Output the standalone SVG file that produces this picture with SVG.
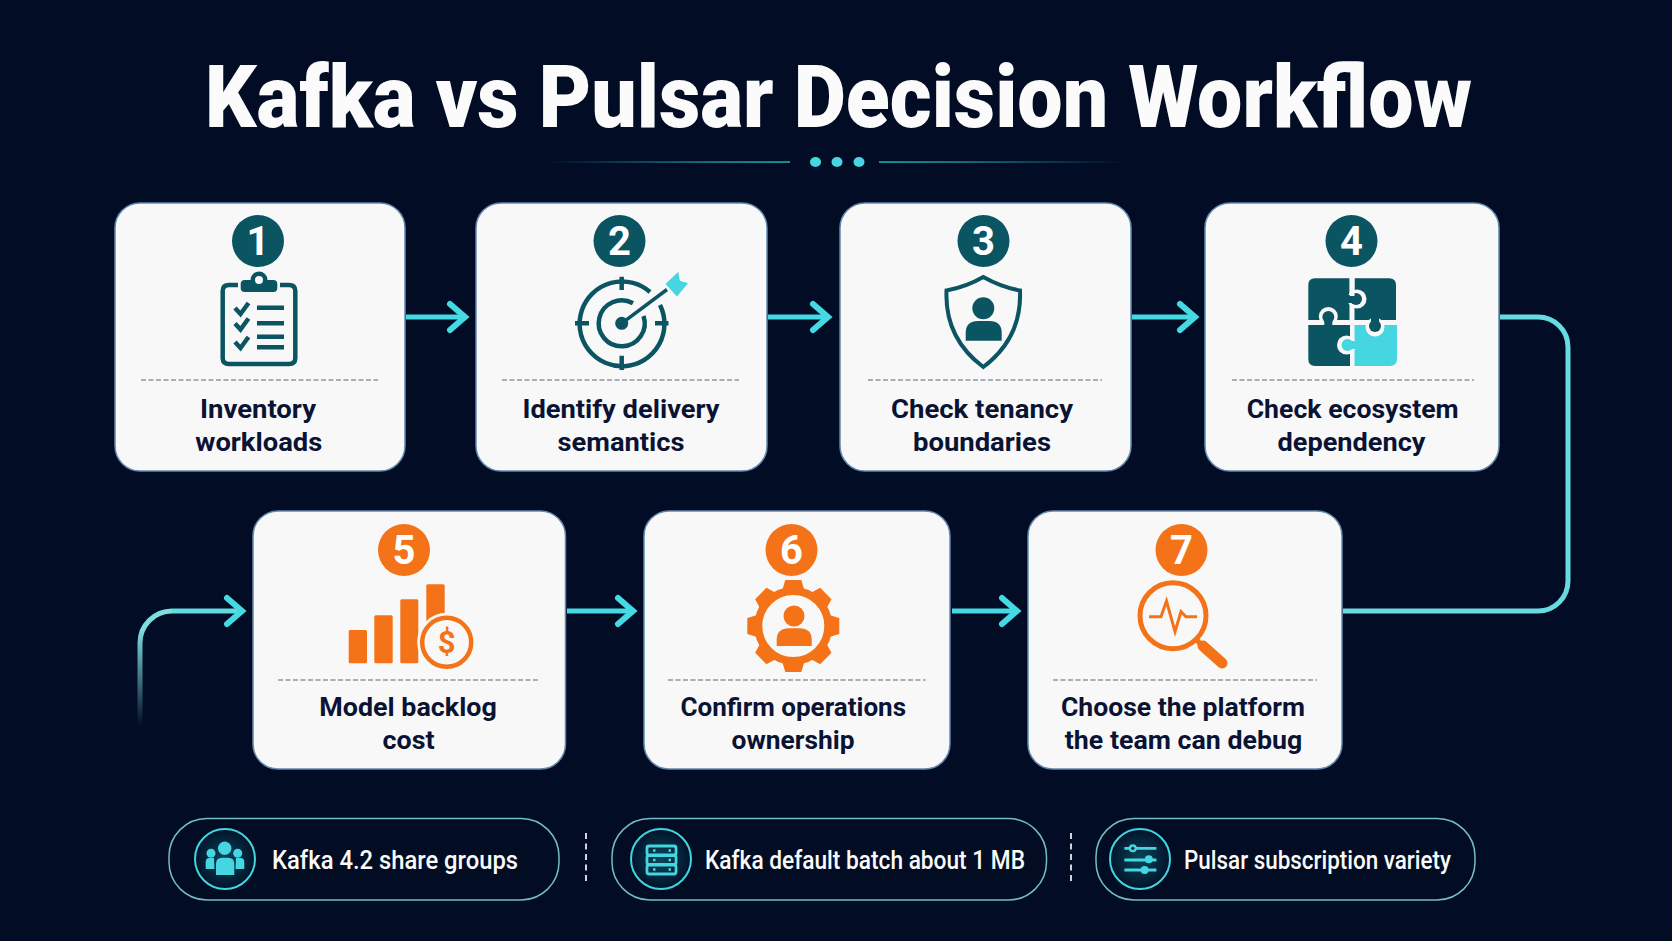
<svg xmlns="http://www.w3.org/2000/svg" xmlns:xlink="http://www.w3.org/1999/xlink" width="1672" height="941" viewBox="0 0 1672 941">
<style>
text{font-family:Roboto,"Liberation Sans",sans-serif}
.title{font-size:88px;font-weight:900;fill:#fbfbfb;text-anchor:middle}
.card{fill:#f8f8f8;stroke:#6289ad;stroke-width:1.5}
.div{stroke:#8e949f;stroke-width:1.5;stroke-dasharray:5 2.5;fill:none}
.lbl{font-size:26.7px;font-weight:700;fill:#0a1333;text-anchor:middle}
.num{font-size:40px;font-weight:700;fill:#fff;text-anchor:middle}
.teal{fill:#0b5563}
.orange{fill:#f47318}
.ts{stroke:#0b5563;fill:none;stroke-width:4.5}
.os{stroke:#f47318;fill:none;stroke-width:4.5}
.link{fill:none;stroke:#45d9e3;stroke-width:5}
.bend{fill:none;stroke:#68dbe2;stroke-width:5}
.pill{fill:#020c22;stroke:#74bcc4;stroke-width:1.5}
.ring{fill:url(#glow);stroke:#3fd6e0;stroke-width:2}
.note{font-size:25px;font-weight:500;fill:#fafafa}
.sep{stroke:#cfd5da;stroke-width:2;stroke-dasharray:6 4.5}
.cy{fill:#45d6e2}
.cys{stroke:#45d6e2;fill:none;stroke-width:2.8}
</style>
<defs>
<marker id="chev" markerUnits="userSpaceOnUse" markerWidth="26" markerHeight="40" viewBox="-22 -20 26 40" refX="-3" refY="0" orient="auto">
<path d="M-16,-13 L-1,0 L-16,13" fill="none" stroke="#45d9e3" stroke-width="6" stroke-linecap="round" stroke-linejoin="miter"/>
</marker>
<linearGradient id="fade" gradientUnits="userSpaceOnUse" x1="0" y1="726" x2="0" y2="630">
<stop offset="0" stop-color="#7fdcdf" stop-opacity="0"/><stop offset="1" stop-color="#7fdcdf"/>
</linearGradient>
<linearGradient id="lineL"><stop offset="0" stop-color="#1f9ea9" stop-opacity="0"/><stop offset="0.7" stop-color="#1f9ea9" stop-opacity=".8"/><stop offset="1" stop-color="#1f9ea9"/></linearGradient>
<linearGradient id="lineR"><stop offset="0" stop-color="#1f9ea9"/><stop offset="0.3" stop-color="#1f9ea9" stop-opacity=".8"/><stop offset="1" stop-color="#1f9ea9" stop-opacity="0"/></linearGradient>
<radialGradient id="glow"><stop offset="0" stop-color="#0a4659"/><stop offset="1" stop-color="#03132a"/></radialGradient>
<path id="tooth" d="M-11,-36 L-8,-46 H8 L11,-36 Z" fill="#f47318"/>
</defs>
<rect width="1672" height="941" fill="#020d25"/>

<g id="title">
<text class="title" x="838.5" y="127" textLength="1267" lengthAdjust="spacingAndGlyphs">Kafka vs Pulsar Decision Workflow</text>
<rect x="546" y="161.2" width="244" height="1.7" fill="url(#lineL)"/>
<rect x="879" y="161.2" width="244" height="1.7" fill="url(#lineR)"/>
<ellipse class="cy" cx="815.5" cy="162" rx="5.5" ry="5"/>
<ellipse class="cy" cx="837" cy="162" rx="5.5" ry="5"/>
<ellipse class="cy" cx="859" cy="162" rx="5.5" ry="5"/>
</g>

<g id="connectors">
<path class="link" d="M406,317 H463" marker-end="url(#chev)"/>
<path class="link" d="M768,317 H826" marker-end="url(#chev)"/>
<path class="link" d="M1132,317 H1193" marker-end="url(#chev)"/>
<path class="bend" d="M1500,317 H1538 A30,30 0 0 1 1568,347 V581 A30,30 0 0 1 1538,611 H1343"/>
<path class="link" d="M567,611 H631" marker-end="url(#chev)"/>
<path class="link" d="M952,611 H1015" marker-end="url(#chev)"/>
<path fill="none" stroke="url(#fade)" stroke-width="5" d="M140,726 V643 A32,32 0 0 1 172,611"/>
<path class="link" d="M172,611 H240" marker-end="url(#chev)" style="stroke:#5fdbe3"/>
</g>

<g id="node-1">
<rect class="card" x="115" y="203" width="290" height="268" rx="25"/>
<circle class="teal" cx="258" cy="241" r="26"/>
<text class="num" x="258" y="255">1</text>
<path class="ts" d="M238,285 H229 Q222.7,285 222.7,291 V358 Q222.7,364 229,364 H289 Q295.3,364 295.3,358 V291 Q295.3,285 289,285 H280"/>
<rect class="teal" x="240.7" y="280" width="36.6" height="12" rx="4"/>
<circle class="teal" cx="259" cy="280" r="8.5"/>
<circle cx="259" cy="280" r="4" fill="#f8f8f8"/>
<path class="ts" d="M235,308 L240.5,314 L248.5,303 M235,323.5 L240.5,329.5 L248.5,318.5 M235,342 L240.5,348 L248.5,337 M257,307.7 H284 M257,323.3 H284 M257,336.7 H284 M257,347.3 H284"/>
<path class="div" d="M141,380 H378"/>
<text class="lbl" x="258" y="417.7" textLength="116" lengthAdjust="spacingAndGlyphs">Inventory</text>
<text class="lbl" x="258.8" y="450.5" textLength="127" lengthAdjust="spacingAndGlyphs">workloads</text>
</g>

<g id="node-2">
<rect class="card" x="476" y="203" width="291" height="268" rx="25"/>
<circle class="teal" cx="619.5" cy="241" r="26"/>
<text class="num" x="619.5" y="255">2</text>
<path class="ts" d="M660,305 A42.4,42.4 0 1 1 650,292"/>
<path class="ts" d="M621.7,276.7 V290 M621.7,355.7 V370 M575,323.3 H589 M655,323.3 H668.5"/>
<path class="ts" d="M643.5,316 A23,23 0 1 1 633,303.3"/>
<circle class="teal" cx="621.7" cy="323.3" r="6.5"/>
<path class="ts" d="M621.7,323.3 L667,289.5" style="stroke-width:3.5"/>
<path class="cy" d="M665.5,284 L678.3,271.7 L679.8,280.7 L688,283.3 L677,296.5 Z"/>
<path class="div" d="M502,380 H739"/>
<text class="lbl" x="621" y="417.7" textLength="197" lengthAdjust="spacingAndGlyphs">Identify delivery</text>
<text class="lbl" x="621" y="450.5" textLength="127" lengthAdjust="spacingAndGlyphs">semantics</text>
</g>

<g id="node-3">
<rect class="card" x="840" y="203" width="291" height="268" rx="25"/>
<circle class="teal" cx="983.5" cy="241" r="26"/>
<text class="num" x="983.5" y="255">3</text>
<path class="ts" d="M983.3,277 Q966,287 946.5,290.5 Q944.5,338 983.3,367 Q1022,338 1020,290.5 Q1001,287 983.3,277 Z" style="stroke-width:4"/>
<circle class="teal" cx="983.3" cy="308.3" r="11"/>
<path class="teal" d="M965.7,340.7 V333 Q965.7,321 978,321 H989.5 Q1001.7,321 1001.7,333 V340.7 Z"/>
<path class="div" d="M868,380 H1102"/>
<text class="lbl" x="982" y="417.7" textLength="182" lengthAdjust="spacingAndGlyphs">Check tenancy</text>
<text class="lbl" x="982" y="450.5" textLength="138" lengthAdjust="spacingAndGlyphs">boundaries</text>
</g>

<g id="node-4">
<rect class="card" x="1205" y="203" width="294" height="268" rx="25"/>
<circle class="teal" cx="1351.5" cy="241" r="26"/>
<text class="num" x="1351.5" y="255">4</text>
<path class="teal" d="M1308.3,320 V285 Q1308.3,278.3 1315,278.3 H1349.5 V320 Z"/>
<path class="teal" d="M1354.5,320 V278.3 H1389 Q1396,278.3 1396,285 V320 Z"/>
<path class="teal" d="M1308.3,325 V359 Q1308.3,366 1315,366 H1350 V325 Z"/>
<path class="cy" d="M1354.5,325 V366 H1390 Q1397,366 1397,359 V325 Z"/>
<circle cx="1357" cy="299" r="9.5" fill="#f8f8f8"/><circle class="teal" cx="1356" cy="299" r="6"/><rect class="teal" x="1344" y="295" width="10" height="8"/>
<circle cx="1328.3" cy="316.5" r="9.5" fill="#f8f8f8"/><circle class="teal" cx="1328.3" cy="317" r="6"/><rect class="teal" x="1324.3" y="318" width="8" height="10"/>
<circle cx="1375" cy="327" r="9.5" fill="#f8f8f8"/><circle class="teal" cx="1375" cy="326" r="6"/><rect class="teal" x="1371" y="317" width="8" height="8"/>
<circle cx="1346.5" cy="345" r="9.5" fill="#f8f8f8"/><circle class="cy" cx="1347.5" cy="345" r="6"/><rect class="cy" x="1349" y="341" width="8" height="8"/>
<rect x="1349.8" y="278" width="4.7" height="18" fill="#f8f8f8"/>
<path class="div" d="M1232,380 H1474"/>
<text class="lbl" x="1352.7" y="417.7" textLength="212" lengthAdjust="spacingAndGlyphs">Check ecosystem</text>
<text class="lbl" x="1351.5" y="450.5" textLength="148" lengthAdjust="spacingAndGlyphs">dependency</text>
</g>

<g id="node-5">
<rect class="card" x="253" y="511" width="312.5" height="258" rx="25"/>
<circle class="orange" cx="404" cy="550" r="26"/>
<text class="num" x="404" y="564">5</text>
<rect class="orange" x="348.7" y="630" width="18.3" height="33.3" rx="1.5"/>
<rect class="orange" x="374.3" y="615.3" width="18.4" height="48" rx="1.5"/>
<rect class="orange" x="400.3" y="599.3" width="18" height="64" rx="1.5"/>
<rect class="orange" x="426.3" y="584.3" width="18.4" height="40" rx="1.5"/>
<circle cx="446.7" cy="642.3" r="29.5" fill="#f8f8f8"/>
<circle class="os" cx="446.7" cy="642.3" r="24.5"/>
<text x="446.7" y="653" font-size="31" font-weight="700" fill="#f47318" text-anchor="middle">$</text>
<path class="div" d="M278,680 H540"/>
<text class="lbl" x="408" y="716" textLength="177.5" lengthAdjust="spacingAndGlyphs">Model backlog</text>
<text class="lbl" x="408.5" y="749" textLength="52" lengthAdjust="spacingAndGlyphs">cost</text>
</g>

<g id="node-6">
<rect class="card" x="644" y="511" width="306" height="258" rx="25"/>
<circle class="orange" cx="791.5" cy="550" r="26"/>
<text class="num" x="791.5" y="564">6</text>
<use xlink:href="#tooth" href="#tooth" transform="translate(793.3,626)"/>
<use xlink:href="#tooth" href="#tooth" transform="translate(793.3,626) rotate(45)"/>
<use xlink:href="#tooth" href="#tooth" transform="translate(793.3,626) rotate(90)"/>
<use xlink:href="#tooth" href="#tooth" transform="translate(793.3,626) rotate(135)"/>
<use xlink:href="#tooth" href="#tooth" transform="translate(793.3,626) rotate(180)"/>
<use xlink:href="#tooth" href="#tooth" transform="translate(793.3,626) rotate(225)"/>
<use xlink:href="#tooth" href="#tooth" transform="translate(793.3,626) rotate(270)"/>
<use xlink:href="#tooth" href="#tooth" transform="translate(793.3,626) rotate(315)"/>
<circle class="os" cx="793.3" cy="626" r="35" style="stroke-width:8"/>
<circle class="orange" cx="794" cy="616" r="10.5"/>
<path class="orange" d="M776.7,646 V640 Q776.7,628.3 789,628.3 H799.5 Q811.7,628.3 811.7,640 V646 Z"/>
<path class="div" d="M668,680 H925.5"/>
<text class="lbl" x="793.3" y="716" textLength="225.5" lengthAdjust="spacingAndGlyphs">Confirm operations</text>
<text class="lbl" x="793" y="749" textLength="123" lengthAdjust="spacingAndGlyphs">ownership</text>
</g>

<g id="node-7">
<rect class="card" x="1028" y="511" width="314" height="258" rx="25"/>
<circle class="orange" cx="1181.5" cy="550" r="26"/>
<text class="num" x="1181.5" y="564">7</text>
<circle class="os" cx="1173" cy="615.7" r="33" style="stroke-width:5"/>
<path class="os" d="M1196,639 L1204,648" style="stroke-width:5"/>
<path class="os" d="M1203,646 L1222,663" style="stroke-width:11;stroke-linecap:round"/>
<path class="os" d="M1149,616.7 H1161 L1166.5,601 L1175,631.7 L1181,611.7 L1186,616.7 H1197" style="stroke-width:3"/>
<path class="div" d="M1053,680 H1317"/>
<text class="lbl" x="1183" y="716" textLength="244" lengthAdjust="spacingAndGlyphs">Choose the platform</text>
<text class="lbl" x="1183.5" y="749" textLength="237.5" lengthAdjust="spacingAndGlyphs">the team can debug</text>
</g>

<g id="note-1">
<rect class="pill" x="169" y="818.5" width="390" height="81.5" rx="38"/>
<circle class="ring" cx="225" cy="859" r="30"/>
<circle class="cy" cx="224.7" cy="848.3" r="6.7"/>
<path class="cy" d="M216,875 V864 Q216,857.7 222,857.7 H228 Q234.3,857.7 234.3,864 V875 Z"/>
<circle class="cy" cx="211" cy="853.3" r="4.5"/>
<circle class="cy" cx="237.7" cy="853.3" r="4.5"/>
<path class="cy" d="M205.7,869 V862 Q205.7,858 209.5,858 H214 L214.5,869 Z M244.3,869 V862 Q244.3,858 240.5,858 H236 L235.5,869 Z"/>
<text class="note" x="272" y="869" textLength="246" lengthAdjust="spacingAndGlyphs">Kafka 4.2 share groups</text>
</g>

<path class="sep" id="sep-1" d="M586,833 V884"/>

<g id="note-2">
<rect class="pill" x="612" y="818.5" width="434.5" height="81.5" rx="38"/>
<circle class="ring" cx="661" cy="859" r="30"/>
<rect class="cys" x="647" y="846" width="29" height="9" rx="2"/>
<rect class="cys" x="647" y="855.5" width="29" height="9" rx="2"/>
<rect class="cys" x="647" y="865" width="29" height="9" rx="2"/>
<path class="cys" stroke-dasharray="2.5 13" d="M653,850.5 H672 M653,860 H672 M653,869.5 H672" style="stroke-width:2.5"/>
<text class="note" x="705" y="869" textLength="320" lengthAdjust="spacingAndGlyphs">Kafka default batch about 1 MB</text>
</g>

<path class="sep" id="sep-2" d="M1071,833 V884"/>

<g id="note-3">
<rect class="pill" x="1096" y="818.5" width="379" height="81.5" rx="38"/>
<circle class="ring" cx="1140" cy="859" r="30"/>
<path class="cys" d="M1124.4,848.3 H1156.4 M1124.4,860 H1156.4 M1124.4,870 H1156.4"/>
<circle cx="1132.8" cy="848.3" r="4" fill="#45d6e2"/><circle cx="1132.8" cy="848.3" r="1.6" fill="#05283c"/>
<circle class="cy" cx="1148.8" cy="859.3" r="4"/>
<circle class="cy" cx="1144.6" cy="870" r="4"/>
<text class="note" x="1184" y="869" textLength="267" lengthAdjust="spacingAndGlyphs">Pulsar subscription variety</text>
</g>
</svg>
